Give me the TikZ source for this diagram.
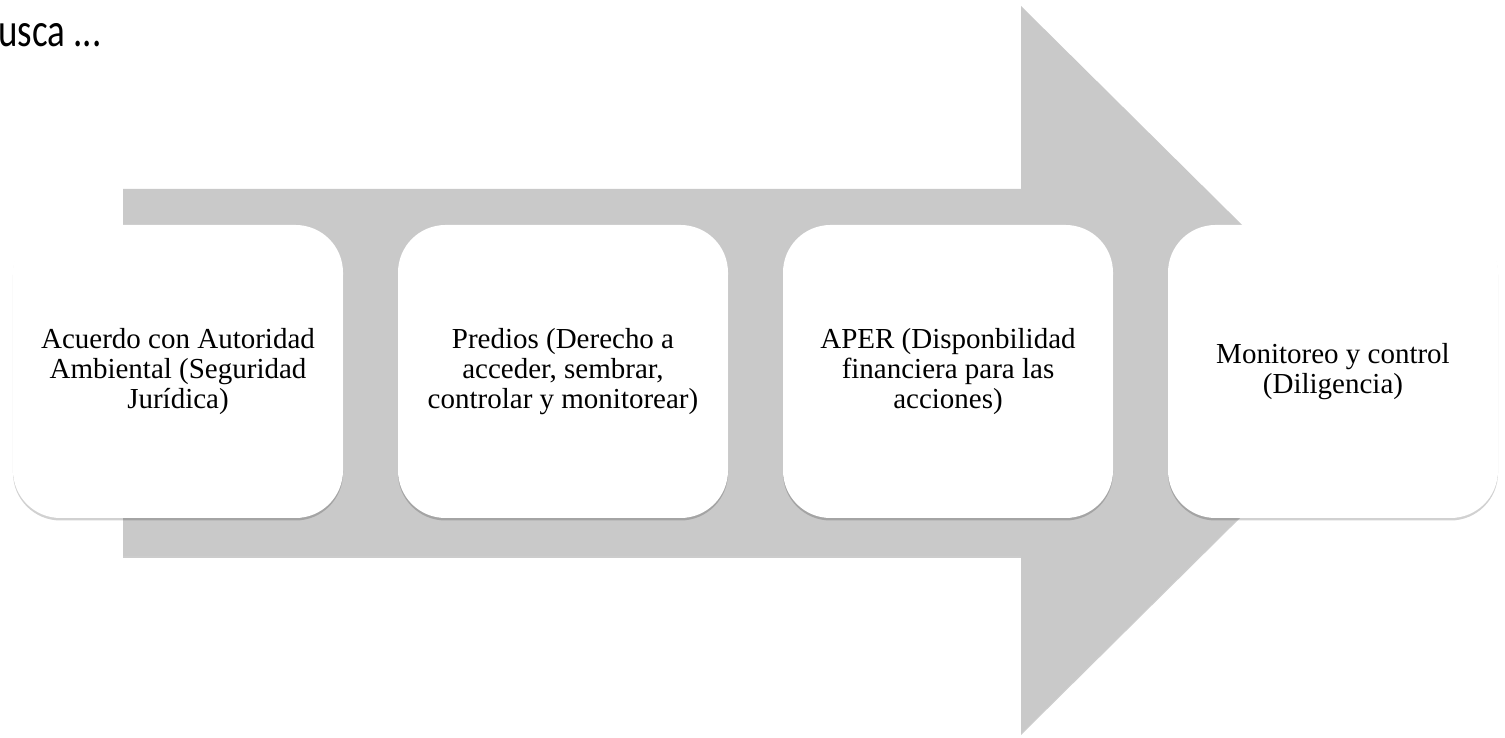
\documentclass[tikz,border=0pt]{standalone}
\usepackage{fontspec}
\setmainfont{Liberation Serif}
\newfontfamily\diapofont{Carlito}
\usepackage{graphicx}
\usepackage{tikz}
\usetikzlibrary{shadows}

\definecolor{flecha}{RGB}{201,201,201}

\begin{document}
\begin{tikzpicture}[
		paso/.style={fill=white, rounded corners=0.95cm, align=center, minimum width=6.6cm, minimum height=5.86cm,
			font=\fontsize{16.5}{17}\selectfont,
			drop shadow={shadow xshift=0cm, shadow yshift=-0.05cm, opacity=0.18, fill=black}}
	]
		\useasboundingbox (0,0) rectangle (30.1,14.76);

		% Titulo
		\node[font=\diapofont\fontsize{27}{32}\selectfont, anchor=base west, inner sep=0pt] (titulo) at (-0.04,13.82) {\scalebox{0.78}[1]{usca ...}};

		% Flecha
		\path[fill=flecha, drop shadow={shadow xshift=0cm, shadow yshift=-0.04cm, opacity=0.2, fill=black}]
			(2.46,10.98) -- (20.42,10.98) -- (20.42,14.64) -- (27.76,7.37) -- (20.42,0.10) -- (20.42,3.64) -- (2.46,3.64) -- cycle;

		% Bloki
		\node[paso] (A) at (3.56,7.33) {Acuerdo con Autoridad\\Ambiental (Seguridad\\Jurídica)};
		\node[paso] (P) at (11.26,7.33) {Predios (Derecho a\\acceder, sembrar,\\controlar y monitorear)};
		\node[paso] (F) at (18.96,7.33) {APER (Disponbilidad\\financiera para las\\acciones)};
		\node[paso] (M) at (26.66,7.33) {Monitoreo y control\\(Diligencia)};
	\end{tikzpicture}
\end{document}
